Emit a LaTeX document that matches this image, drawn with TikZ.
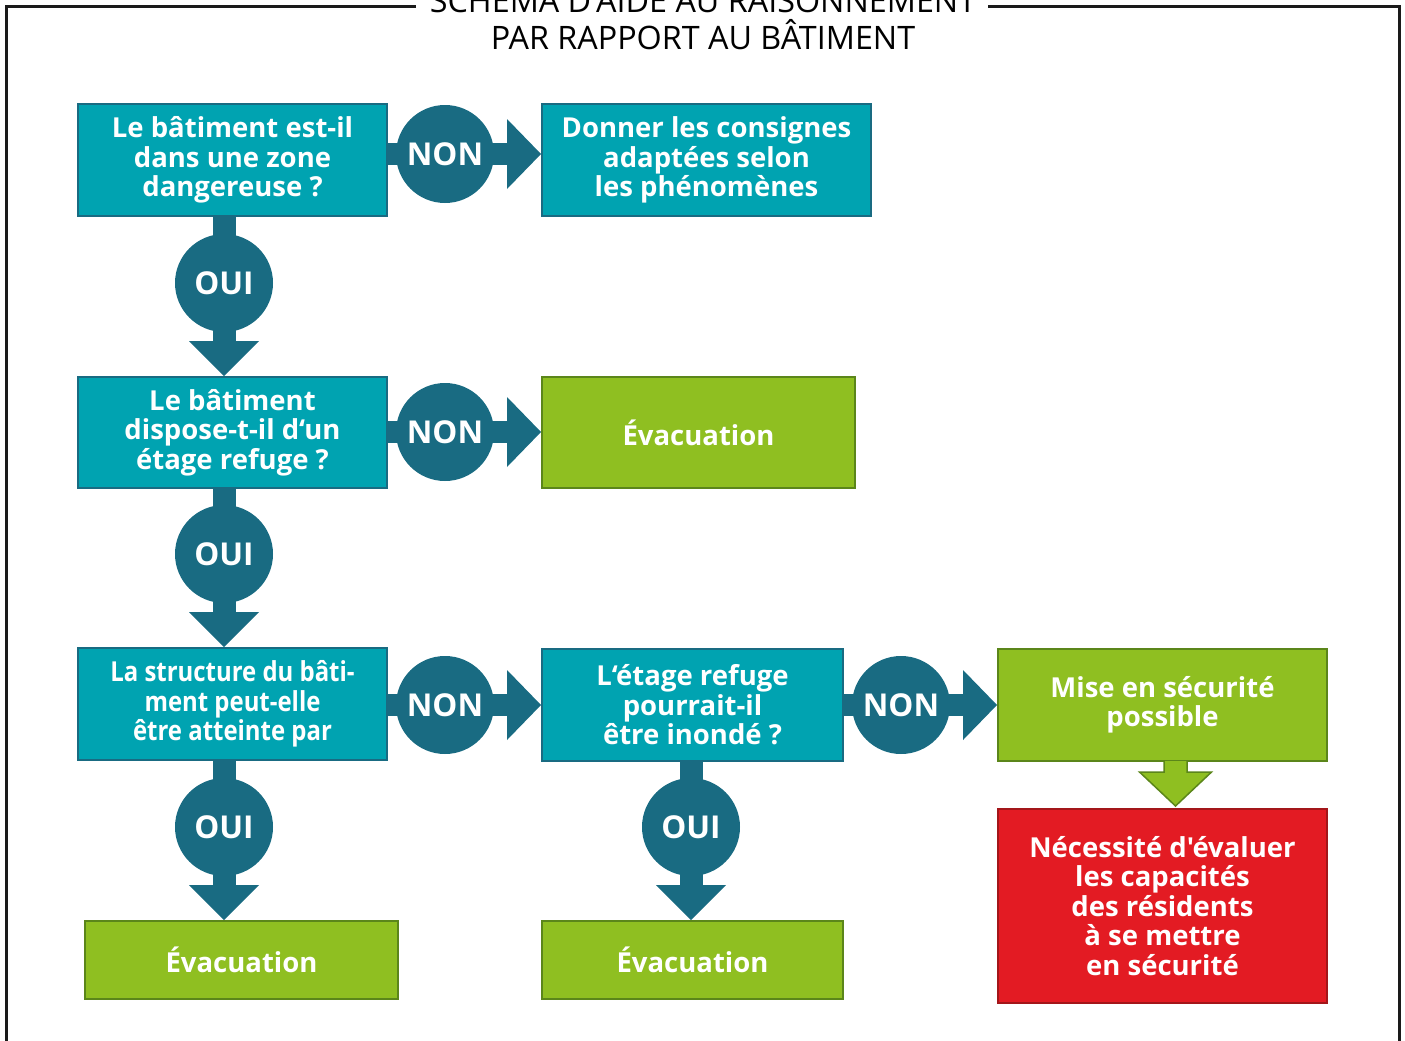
\documentclass[tikz,border=0pt]{standalone}
\usepackage{fontspec}
\usetikzlibrary{calc}
\newfontfamily\osans{Open Sans}
\newfontfamily\ocond[FakeStretch=0.87]{Open Sans}
\definecolor{tealf}{HTML}{00A3B1}
\definecolor{tealdk}{HTML}{196B82}
\definecolor{grnf}{HTML}{8FBF21}
\definecolor{grndk}{HTML}{5B861A}
\definecolor{redf}{HTML}{E31B23}
\definecolor{reddk}{HTML}{A3161A}
\definecolor{framec}{HTML}{1A1A1A}
\newcommand\hconn[4]{% from, to, y, label
  \coordinate (hs) at (#1.east |- 0,#3);
  \coordinate (ht) at (#2.west |- 0,#3);
  \fill[tealdk] ($(hs)+(-1,-11)$) rectangle ($(ht)+(-34,11)$);
  \fill[tealdk] ($(ht)+(-34,-35)$) -- (ht) -- ($(ht)+(-34,35)$) -- cycle;
  \node[circ] at ($(ht)+(-96,0)$) {#4};
}
\newcommand\vconn[4]{% from, to, x, label
  \coordinate (vs) at (#1.south -| #3,0);
  \coordinate (vt) at (#2.north -| #3,0);
  \fill[tealdk] ($(vs)+(-11.5,-1)$) rectangle ($(vt)+(11.5,-35)$);
  \fill[tealdk] ($(vt)+(-35,-35)$) -- (vt) -- ($(vt)+(35,-35)$) -- cycle;
  \node[circ] at ($(vt)+(0,-93)$) {#4};
}
\begin{document}
\begin{tikzpicture}[x=1pt,y=-1pt,
  boxbase/.style={rectangle, line width=2pt, text=white, align=center, inner sep=0pt,
    font=\osans\bfseries\fontsize{27.5}{29.5}\selectfont},
  qbox/.style={boxbase, draw=tealdk, fill=tealf},
  gbox/.style={boxbase, draw=grndk, fill=grnf},
  rbox/.style={boxbase, draw=reddk, fill=redf},
  circ/.style={circle, fill=tealdk, minimum size=98pt, inner sep=0pt, text=white,
    font=\osans\bfseries\fontsize{31.5}{34}\selectfont}]
\useasboundingbox (0,0) rectangle (1405,1041);
% frame
\draw[framec, line width=3pt] (416,7) -- (6,7) -- (6,1045);
\draw[framec, line width=3pt] (988,7) -- (1399,7) -- (1399,1045);
\node[font=\osans\fontsize{32.3}{37}\selectfont, align=center] (title) at (703,16)
  {SCHÉMA D'AIDE AU RAISONNEMENT\\PAR RAPPORT AU BÂTIMENT};
% boxes
\node[qbox, minimum width=309pt, minimum height=112pt] (b1) at (232.5,160)
  {Le bâtiment est-il\\dans une zone\\dangereuse ?};
\node[qbox, minimum width=329pt, minimum height=112pt] (b2) at (706.5,160)
  {Donner les consignes\\adaptées selon\\les phénomènes};
\node[qbox, minimum width=309pt, minimum height=111pt] (b3) at (232.5,432.5)
  {Le bâtiment\\dispose-t-il d‘un\\étage refuge ?};
\node[gbox, minimum width=313pt, minimum height=111pt] (b4) at (698.5,432.5)
  {Évacuation};
\node[qbox, minimum width=309pt, minimum height=112pt,
  font=\ocond\bfseries\fontsize{27.5}{29.5}\selectfont] (b5) at (232.5,704)
  {La structure du bâti-\\ment peut-elle\\être atteinte par};
\node[qbox, minimum width=301pt, minimum height=112pt] (b6) at (692.5,705)
  {L‘étage refuge\\pourrait-il\\être inondé ?};
\node[gbox, minimum width=329pt, minimum height=112pt] (b7) at (1162.5,705)
  {Mise en sécurité\\possible};
\node[rbox, minimum width=329pt, minimum height=194pt] (b8) at (1162.5,906)
  {Nécessité d'évaluer\\les capacités\\des résidents\\à se mettre\\en sécurité};
\node[gbox, minimum width=313pt, minimum height=78pt] (b9) at (241.5,960)
  {Évacuation};
\node[gbox, minimum width=301pt, minimum height=78pt] (b10) at (692.5,960)
  {Évacuation};
% connectors
\hconn{b1}{b2}{154}{NON}
\hconn{b3}{b4}{432}{NON}
\hconn{b5}{b6}{705}{NON}
\hconn{b6}{b7}{705}{NON}
\vconn{b1}{b3}{224}{OUI}
\vconn{b3}{b5}{224}{OUI}
\vconn{b5}{b9}{224}{OUI}
\vconn{b6}{b10}{691}{OUI}
% green arrow
\coordinate (gs) at (b7.south -| 1175.5,0);
\coordinate (gt) at (b8.north -| 1175.5,0);
\filldraw[fill=grnf, draw=grndk, line width=1.5pt, line join=miter]
  ($(gs)+(-11.5,-1)$) -- ($(gs)+(-11.5,10)$) -- ($(gs)+(-36,10)$) -- ($(gt)+(0,-2)$)
  -- ($(gs)+(36,10)$) -- ($(gs)+(11.5,10)$) -- ($(gs)+(11.5,-1)$);
\end{tikzpicture}
\end{document}
